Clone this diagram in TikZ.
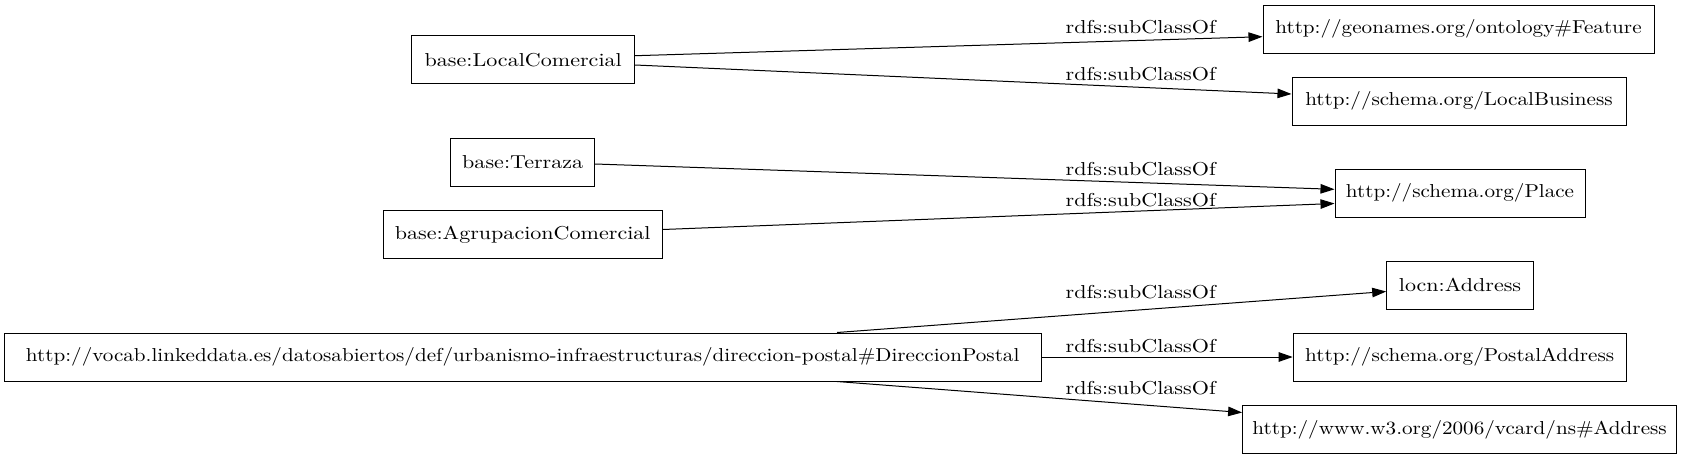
\documentclass[tikz,border=0pt]{standalone}
\usepackage{fontspec}
\setmainfont{lmroman10-regular.otf}[FakeStretch=1.18]
\newfontfamily\urlfont{lmroman10-regular.otf}[FakeStretch=1.13]
\usetikzlibrary{arrows.meta}
\begin{document}
\begin{tikzpicture}[x=1pt,y=-1pt,
  box/.style={draw=black, line width=1pt, rectangle, inner sep=0pt, minimum height=48pt, font=\urlfont\fontsize{18.7}{22}\selectfont},
  basebox/.style={box, font=\rmfamily\fontsize{18.7}{22}\selectfont},
  rel/.style={draw=black, line width=1pt, -{Triangle[length=14pt,width=9.5pt]}},
  lbl/.style={anchor=base, inner sep=0pt, font=\rmfamily\fontsize{18.7}{22}\selectfont}]
\useasboundingbox (0,0) rectangle (1683,459);
% nodes
\node[basebox, minimum width=223pt] (lc) at (523.2,59.7) {base:LocalComercial};
\node[box, minimum width=391pt] (feat) at (1458.5,29) {http://geonames.org/ontology\#Feature};
\node[box, minimum width=334pt] (lb) at (1459,101) {http://schema.org/LocalBusiness};
\node[basebox, minimum width=144pt] (ter) at (522.7,162.4) {base:Terraza};
\node[box, minimum width=250pt] (place) at (1460,193) {http://schema.org/Place};
\node[basebox, minimum width=279pt] (agr) at (522.7,234.5) {base:AgrupacionComercial};
\node[basebox, minimum width=146.6pt] (locn) at (1460,285.2) {locn:Address};
\node[box, minimum width=1036.7pt] (dir) at (522.7,357) {http://vocab.linkeddata.es/datosabiertos/def/urbanismo-infraestructuras/direccion-postal\#DireccionPostal};
\node[box, minimum width=333pt] (pa) at (1459.7,357) {http://schema.org/PostalAddress};
\node[box, minimum width=434pt] (vc) at (1459.6,429.5) {http://www.w3.org/2006/vcard/ns\#Address};
% edges
\draw[rel] ([yshift=4pt]lc.east) -- ([yshift=-7.7pt]feat.west);
\draw[rel] ([yshift=-5.3pt]lc.east) -- ([yshift=7pt]lb.west);
\draw[rel] ([yshift=-1.6pt]ter.east) -- ([yshift=3.7pt]place.west);
\draw[rel] ([yshift=5pt]agr.east) -- ([yshift=-10.5pt]place.west);
\draw[rel] ([xshift=314.3pt]dir.north) -- ([yshift=-6.3pt]locn.west);
\draw[rel] (dir.east) -- (pa.west);
\draw[rel] ([xshift=314.3pt]dir.south) -- ([yshift=17pt]vc.west);
% labels
\node[lbl] (l1) at (1140.7,33.3) {rdfs:subClassOf};
\node[lbl] (l2) at (1140.7,80) {rdfs:subClassOf};
\node[lbl] (l3) at (1140.7,175) {rdfs:subClassOf};
\node[lbl] (l4) at (1140.7,206) {rdfs:subClassOf};
\node[lbl] (l5) at (1140.7,298) {rdfs:subClassOf};
\node[lbl] (l6) at (1140.7,352) {rdfs:subClassOf};
\node[lbl] (l7) at (1140.7,394) {rdfs:subClassOf};
\end{tikzpicture}
\end{document}
